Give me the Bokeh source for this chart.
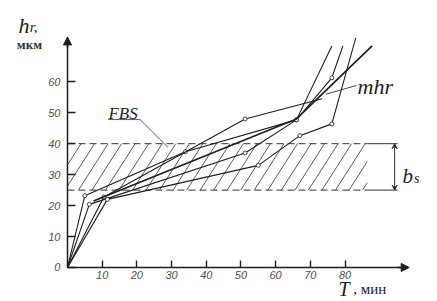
from bokeh.plotting import figure
from bokeh.models import FixedTicker, Label, Arrow, NormalHead, VeeHead, LinearAxis
from bokeh.embed import file_html
from bokeh.resources import INLINE

# ---------------- data ----------------
T1 = [0, 5, 34, 66, 76.2]
H1 = [0, 23.2, 37.4, 47.7, 71.6]

T2 = [0, 6.3, 51.2, 66, 76.2, 79.4]
H2 = [0, 20.4, 37.0, 47.7, 61.3, 71.6]

T3 = [0, 10.5, 51.2, 73.4]
H3 = [0, 22.8, 48.0, 54.5]

T4 = [0, 11.5, 55.0, 67.0, 76.2, 83.1]
H4 = [0, 22.0, 33.0, 42.6, 46.4, 74.2]

T_MHR = [7.5, 66, 87.8]
H_MHR = [21.5, 48.0, 71.6]

BAND = [25, 40]          # b_s band limits, мкм
BAND_T_END = 86.4        # end of the hatched zone, мин
Y_TICKS = [0, 10, 20, 30, 40, 50, 60]
X_TICKS = [10, 20, 30, 40, 50, 60, 70, 80]

SERIES = [(T1, H1), (T2, H2), (T3, H3), (T4, H4)]

# ---------------- figure ----------------
p = figure(width=437, height=301, x_range=(-19.31, 106.66), y_range=(-10.99, 86.27),
           output_backend="svg", toolbar_location=None,
           x_axis_location=None, y_axis_location=None,
           min_border=0)
p.outline_line_color = None
p.grid.visible = False
p.background_fill_color = "white"

INK = "#1e1e1e"
SERIF = "Liberation Serif"

xaxis = LinearAxis(fixed_location=0, bounds=(0, 98), ticker=FixedTicker(ticks=X_TICKS))
yaxis = LinearAxis(fixed_location=0, bounds=(0, 74), ticker=FixedTicker(ticks=Y_TICKS))
for ax in (xaxis, yaxis):
    ax.axis_line_width = 1.5
    ax.axis_line_color = INK
    ax.major_tick_line_color = INK
    ax.major_tick_line_width = 1.4
    ax.minor_tick_line_color = None
    ax.major_tick_out = 0
    ax.major_label_text_font = "Liberation Sans"
    ax.major_label_text_font_style = "italic"
    ax.major_label_text_font_size = "11px"
    ax.major_label_text_color = "#505050"
xaxis.major_tick_in = 7
xaxis.major_label_standoff = 4
yaxis.major_tick_in = 8
yaxis.major_label_standoff = 7
p.add_layout(xaxis, "below")
p.add_layout(yaxis, "left")

# axis arrowheads
p.add_layout(Arrow(x_start=95, y_start=0, x_end=98.5, y_end=0, line_width=1.5, line_color=INK,
                   end=NormalHead(size=8, fill_color=INK, line_color=INK)))
p.add_layout(Arrow(x_start=0, y_start=71, x_end=0, y_end=74.5, line_width=1.5, line_color=INK,
                   end=NormalHead(size=8, fill_color=INK, line_color=INK)))

# hatched b_s band
lo, hi = BAND
slope = 0.57        # hatch run (T) per unit of h
step = 3.9
xs, ys = [], []
x0 = -slope * (hi - lo)
while x0 < BAND_T_END:
    xa, ya = x0, lo
    xb, yb = x0 + slope * (hi - lo), hi
    if xa < 0:
        ya = lo + (0 - x0) / slope
        xa = 0
    if xb > BAND_T_END:
        yb = lo + (BAND_T_END - x0) / slope
        xb = BAND_T_END
    if xb > xa:
        xs.append([xa, xb])
        ys.append([ya, yb])
    x0 += step
p.multi_line(xs, ys, line_color="#333333", line_width=0.8)

for yv in BAND:
    p.line([0, BAND_T_END], [yv, yv], line_color="#333333", line_width=1.0, line_dash="7 4")
    p.line([BAND_T_END, 95.2], [yv, yv], line_color="#333333", line_width=1.0)

p.add_layout(Arrow(x_start=94.3, y_start=lo, x_end=94.3, y_end=hi, line_width=1.0, line_color="#333333",
                   start=VeeHead(size=5, line_color="#333333", line_width=1),
                   end=VeeHead(size=5, line_color="#333333", line_width=1)))

# experimental curves
for t, h in SERIES:
    p.line(t, h, line_color=INK, line_width=1.1)
    p.scatter(t[1:-1], h[1:-1], size=4, marker="circle", fill_color="white",
              line_color=INK, line_width=0.8)

p.line(T_MHR, H_MHR, line_color=INK, line_width=1.7)

# leaders
p.line([11.7, 20.9, 29.0], [47.8, 47.8, 38.8], line_color="#333333", line_width=0.8)
p.line([74.5, 83.3], [56.0, 58.8], line_color="#333333", line_width=0.9)

# texts
def lab(x, y, text, size, style="italic", font=SERIF, color=INK):
    p.add_layout(Label(x=x, y=y, text=text, text_font=font, text_font_size=size,
                       text_font_style=style, text_color=color,
                       text_baseline="alphabetic", text_align="left"))

lab(-14.1, 78.2, "h", "22px")
lab(-10.9, 77.6, "r,", "15px")
lab(-14.6, 72.0, "мкм", "13px", style="bold", color="#333333")
lab(11.8, 49.9, "FBS", "17px")
lab(83.6, 58.6, "mhr", "22px")
lab(96.6, 29.5, "b", "21px")
lab(99.9, 28.9, "s", "14px")
lab(78.1, -7.0, "T", "20px")
lab(82.4, -7.0, ", мин", "15px", style="normal")

open("out.html", "w").write(file_html(p, INLINE))
